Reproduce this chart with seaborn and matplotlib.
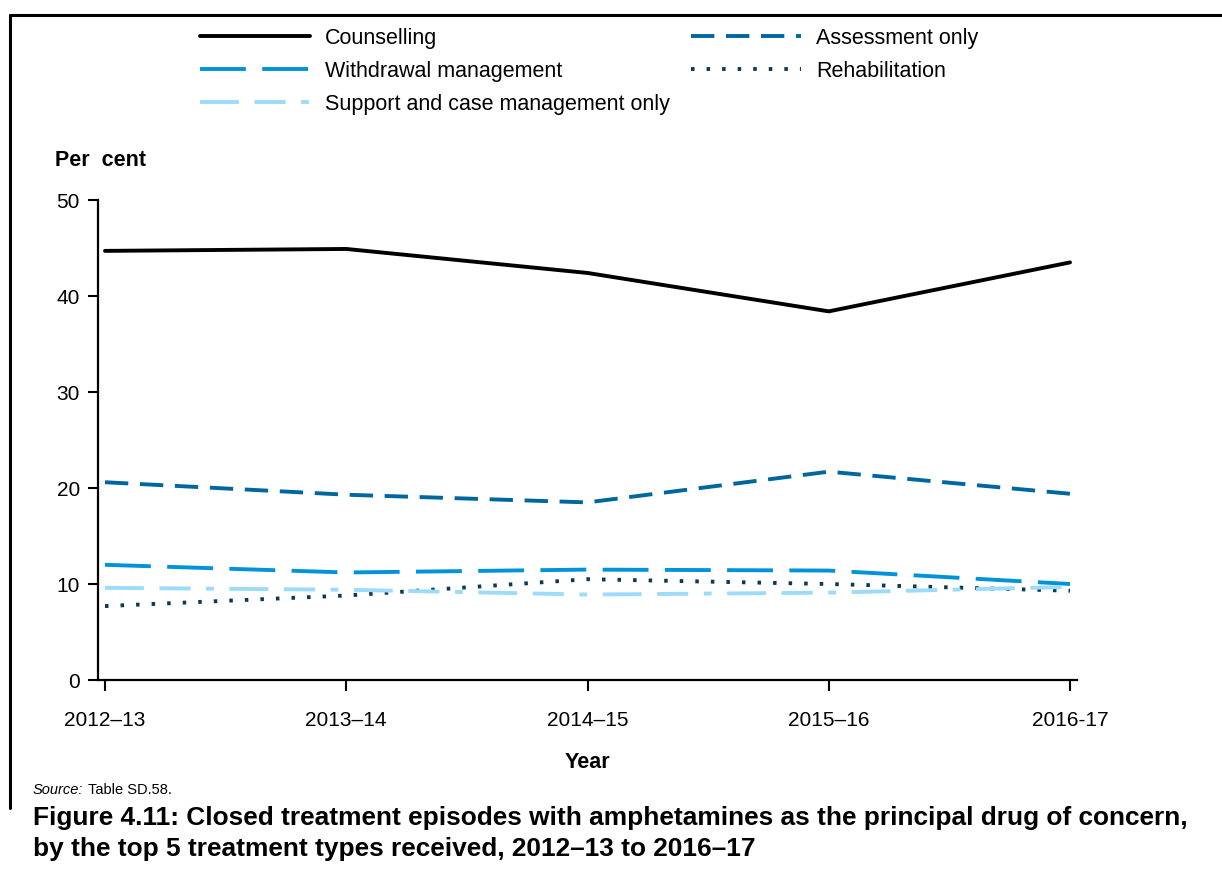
import matplotlib
matplotlib.use("Agg")
import matplotlib.pyplot as plt
import matplotlib.lines as mlines
import seaborn as sns
import pandas as pd

years = ["2012–13", "2013–14", "2014–15", "2015–16", "2016-17"]
counselling = [44.7, 44.9, 42.4, 38.4, 43.5]
assessment = [20.6, 19.3, 18.5, 21.7, 19.4]
withdrawal = [12.0, 11.2, 11.5, 11.4, 10.0]
rehabilitation = [7.7, 8.8, 10.5, 10.0, 9.3]
support = [9.6, 9.4, 8.9, 9.1, 9.7]
yticks = [0, 10, 20, 30, 40, 50]

series = {
    "Counselling": counselling,
    "Assessment only": assessment,
    "Withdrawal management": withdrawal,
    "Rehabilitation": rehabilitation,
    "Support and case management only": support,
}
df = pd.DataFrame(
    [(y, name, v) for name, vals in series.items() for y, v in zip(years, vals)],
    columns=["Year", "Type", "Value"],
)

palette = {
    "Counselling": "#000000",
    "Assessment only": "#00679E",
    "Withdrawal management": "#0093DA",
    "Rehabilitation": "#0A3A55",
    "Support and case management only": "#9CDBFA",
}
dashes = {
    "Counselling": "",
    "Assessment only": (6, 3),
    "Withdrawal management": (11.8, 4.2),
    "Rehabilitation": (0.9, 3.1),
    "Support and case management only": (10, 4, 8, 4, 2, 4),
}

sns.set_style("white")
plt.rcParams["font.family"] = ["Liberation Sans", "DejaVu Sans"]
plt.rcParams["text.color"] = "black"
plt.rcParams["axes.labelcolor"] = "black"

fig = plt.figure(figsize=(12.22, 8.73), dpi=100)
ax = fig.add_axes([98 / 1222, 1 - 680 / 873, (1077 - 98) / 1222, (680 - 200) / 873])

sns.lineplot(
    data=df, x="Year", y="Value", hue="Type", style="Type",
    palette=palette, dashes=dashes, sort=False, lw=2.8, ax=ax, legend=True,
)

ax.set_xlim(-0.029, 4.029)
ax.set_ylim(0, 50)
ax.set_yticks(yticks)
ax.set_xticks(range(len(years)))
ax.set_xticklabels(years)
for s in ["top", "right"]:
    ax.spines[s].set_visible(False)
for s in ["left", "bottom"]:
    ax.spines[s].set_color("black")
    ax.spines[s].set_linewidth(1.6)
ax.tick_params(axis="y", direction="out", length=7, width=1.5, pad=6,
               labelsize=15, colors="black", left=True)
ax.tick_params(axis="x", direction="out", length=8, width=1.5, pad=14,
               labelsize=15, colors="black", bottom=True)
ax.set_ylabel("")
ax.set_xlabel("Year", fontsize=15.5, fontweight="bold", labelpad=16)

handles, labels = ax.get_legend_handles_labels()
hmap = dict(zip(labels, handles))
ax.get_legend().remove()
order = ["Counselling", "Withdrawal management", "Support and case management only",
         "Assessment only", "Rehabilitation"]
fig.legend(
    [hmap[k] for k in order], order, loc="upper left",
    bbox_to_anchor=(200 / 1222, 1 - 28 / 873), ncol=2, frameon=False,
    fontsize=15.5, handlelength=5.1, handletextpad=0.7, columnspacing=1.0,
    labelspacing=0.55, borderpad=0, borderaxespad=0,
)

fig.text(55 / 1222, 1 - 160 / 873, "Per  cent", fontsize=15.5, fontweight="bold",
         va="center", ha="left")

fig.text(33 / 1222, 1 - 790 / 873, "Source:", fontsize=10.5, style="italic",
         va="center", ha="left")
fig.text(88 / 1222, 1 - 790 / 873, "Table SD.58.", fontsize=10.5,
         va="center", ha="left")
fig.text(33 / 1222, 1 - 818 / 873,
         "Figure 4.11: Closed treatment episodes with amphetamines as the principal drug of concern,",
         fontsize=18.9, fontweight="bold", va="center", ha="left")
fig.text(33 / 1222, 1 - 849 / 873,
         "by the top 5 treatment types received, 2012–13 to 2016–17",
         fontsize=18.9, fontweight="bold", va="center", ha="left")

# frame lines (top and left) around the figure panel
fig.add_artist(mlines.Line2D([10 / 1222, 1.0], [1 - 15 / 873, 1 - 15 / 873],
                             transform=fig.transFigure, color="black", lw=2.2))
fig.add_artist(mlines.Line2D([10 / 1222, 10 / 1222], [1 - 15 / 873, 1 - 808 / 873],
                             transform=fig.transFigure, color="black", lw=2.2))

fig.savefig("out.png", dpi=100)
